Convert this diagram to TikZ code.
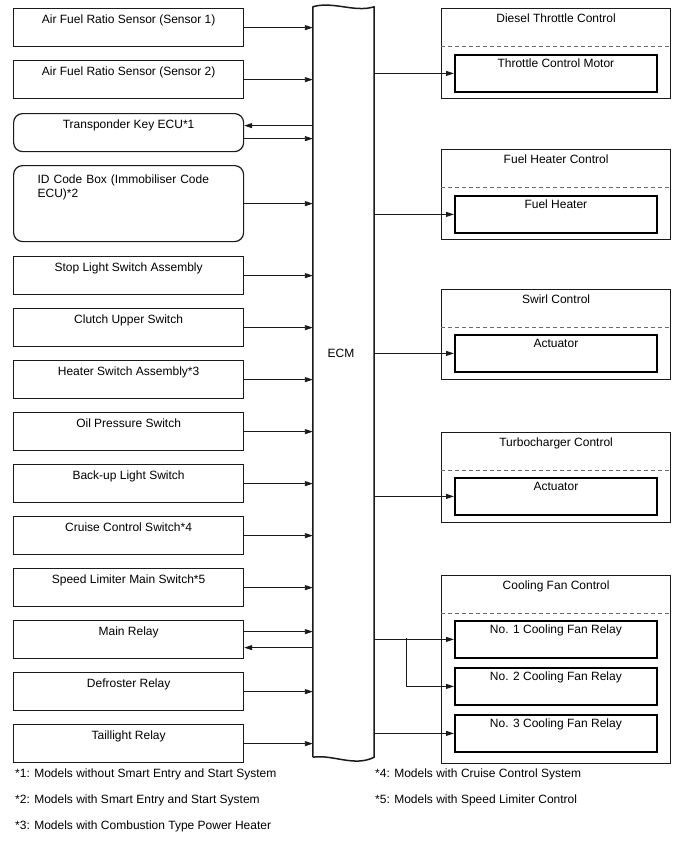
\documentclass[tikz,border=0pt]{standalone}
\usepackage{fontspec}
\setmainfont{Liberation Sans}
\usetikzlibrary{arrows.meta, positioning, calc}
\definecolor{linegray}{HTML}{1A1A1A}
\definecolor{dashgray}{HTML}{6A6A6A}

\begin{document}
\begin{tikzpicture}[x=1pt, y=-1pt, font=\fontsize{12}{14}\selectfont,
    inbox/.style={draw=linegray, line width=1.2pt, anchor=north west,
      minimum width=230pt, inner xsep=0pt, inner ysep=0pt,
      text height=15pt, text depth=#1},
    inbox/.default=23pt,
    groupbox/.style={draw=linegray, line width=1.2pt, anchor=north west,
      minimum width=229pt, inner xsep=0pt, inner ysep=0pt,
      text height=14pt, text depth=#1},
    partbox/.style={draw=black, line width=1.8pt, anchor=north west,
      minimum width=202pt, inner xsep=0pt, inner ysep=0pt,
      text height=13pt, text depth=24pt},
    sig/.style={-{Triangle[length=8pt,width=5pt]}, line width=0.9pt, draw=linegray},
    sigback/.style={{Triangle[length=8pt,width=5pt]}-, line width=0.9pt, draw=linegray},
    note/.style={anchor=base west, inner sep=0pt}]
  \useasboundingbox (0,0) rectangle (688,852);

  % ECM
  \node[minimum width=61pt, minimum height=750pt, inner sep=0pt] (ecm) at (343.5,382) {};
  \draw[linegray, line width=1.5pt, line join=round]
    (ecm.south west) -- (ecm.north west)
    .. controls +(20,-6) and +(-20,6) .. (ecm.north east)
    -- (ecm.south east)
    .. controls +(-20,10) and +(20,-3) .. (ecm.south west);
  \node (ecmtxt) at (341,353) {ECM};

  % inputs
  \foreach \name/\top/\txt in {afs1/8/Air Fuel Ratio Sensor (Sensor 1),
      afs2/60/Air Fuel Ratio Sensor (Sensor 2),
      stop/256/Stop Light Switch Assembly,
      clutch/308/Clutch Upper Switch,
      heater/360/Heater Switch Assembly*3,
      oil/412/Oil Pressure Switch,
      backup/464/Back-up Light Switch,
      cruise/516/Cruise Control Switch*4,
      limiter/568/Speed Limiter Main Switch*5,
      defrost/672/Defroster Relay,
      tail/724/Taillight Relay}
  {
    \node[inbox] (\name) at (13,\top) {\txt};
    \draw[sig] (\name.east) -- (\name.east -| ecm.west);
  }

  \node[inbox, rounded corners=9pt] (tke) at (13,113) {Transponder Key ECU*1};
  \node[inbox=58pt, rounded corners=9pt, text height=18pt,
    text width=182pt, align=left] (idbox) at (13,165)
    {ID Code Box (Immobiliser Code\\ECU)*2};
  \node[inbox] (mainrly) at (13,620) {Main Relay};

  \draw[sig] (idbox.east) -- (idbox.east -| ecm.west);
  \coordinate (tkeout) at ($(tke.east)+(0,-7)$);
  \coordinate (tkein) at ($(tke.east)+(0,6)$);
  \draw[sigback] (tkeout) -- (tkeout -| ecm.west);
  \draw[sig] (tkein) -- (tkein -| ecm.west);
  \coordinate (mrin) at ($(mainrly.east)+(0,-8)$);
  \coordinate (mrout) at ($(mainrly.east)+(0,8)$);
  \draw[sig] (mrin) -- (mrin -| ecm.west);
  \draw[sigback] (mrout) -- (mrout -| ecm.west);

  % outputs
  \foreach \name/\top/\ttl/\part/\ptop in {dtc/8/Diesel Throttle Control/Throttle Control Motor/54,
      fhc/149/Fuel Heater Control/Fuel Heater/195,
      swc/289/Swirl Control/Actuator/334,
      tbc/432/Turbocharger Control/Actuator/477}
  {
    \node[groupbox=76pt] (\name) at (441,\top) {\ttl};
    \draw[dashgray, line width=1pt, dash pattern=on 4pt off 3pt]
      ($(\name.north west)+(0,38.5)$) -- ($(\name.north east)+(0,38.5)$);
    \node[partbox] (\name part) at (454,\ptop) {\part};
    \draw[sig] (\name part.west -| ecm.east) -- (\name part);
  }

  \node[groupbox=174pt] (cfc) at (441,575) {Cooling Fan Control};
  \draw[dashgray, line width=1pt, dash pattern=on 4pt off 3pt]
    ($(cfc.north west)+(0,38.5)$) -- ($(cfc.north east)+(0,38.5)$);
  \node[partbox] (fan1) at (454,620) {No. 1 Cooling Fan Relay};
  \node[partbox] (fan2) at (454,667) {No. 2 Cooling Fan Relay};
  \node[partbox] (fan3) at (454,714) {No. 3 Cooling Fan Relay};
  \draw[sig] (fan1.west -| ecm.east) -- (fan1);
  \coordinate (fanbr) at (406,638);
  \draw[sig] (fanbr) |- (fan2);
  \draw[sig] (fan3.west -| ecm.east) -- (fan3);

  % notes
  \node[note] (n1) at (15,777) {*1: Models without Smart Entry and Start System};
  \node[note] (n2) at (15,803) {*2: Models with Smart Entry and Start System};
  \node[note] (n3) at (15,829) {*3: Models with Combustion Type Power Heater};
  \node[note] (n4) at (375,777) {*4: Models with Cruise Control System};
  \node[note] (n5) at (375,803) {*5: Models with Speed Limiter Control};
\end{tikzpicture}
\end{document}
